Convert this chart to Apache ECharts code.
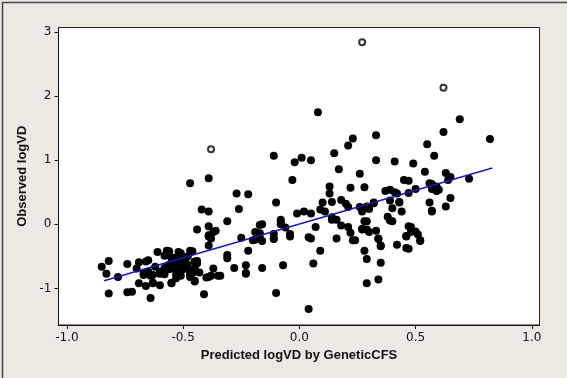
<!DOCTYPE html>
<html>
<head>
<meta charset="utf-8">
<script src="https://cdn.jsdelivr.net/npm/echarts@6/dist/echarts.min.js"></script>
<style>
  html, body { margin: 0; padding: 0; background: #ece8e2; }
  #chart { width: 567px; height: 378px; }
</style>
</head>
<body>
<div id="chart"></div>
<script>
// predicted vs observed logVD
var points = [
  [0.08,1.75],[0.69,1.64],[0.82,1.33],[0.62,1.44],[0.33,1.39],[0.23,1.34],[0.21,1.23],[0.55,1.25],
  [0.15,1.11],[0.58,1.07],[-0.11,1.07],[0.01,1.04],[0.05,1.00],[-0.02,0.97],[0.33,1.00],[0.41,0.98],
  [0.49,0.95],[0.17,0.86],[0.26,0.79],[0.54,0.82],[0.63,0.80],[0.65,0.74],[0.64,0.69],[0.73,0.71],
  [-0.39,0.72],[-0.47,0.64],[-0.03,0.69],[0.45,0.69],[0.47,0.68],[0.13,0.59],[0.22,0.57],[0.28,0.58],
  [0.50,0.55],[0.57,0.63],[0.57,0.55],[0.59,0.59],[0.59,0.52],[0.58,0.58],[0.37,0.52],[0.39,0.54],
  [0.41,0.50],[0.47,0.49],[0.13,0.48],[-0.27,0.48],[-0.22,0.47],[0.65,0.41],[0.18,0.38],[0.39,0.37],
  [0.10,0.34],[0.14,0.35],[0.20,0.32],[0.32,0.34],[0.43,0.34],[0.56,0.34],[-0.10,0.34],[0.21,0.27],
  [0.29,0.28],[0.30,0.24],[0.63,0.28],[0.40,0.25],[0.57,0.20],[0.44,0.20],[-0.42,0.23],[-0.39,0.20],
  [-0.26,0.24],[0.09,0.23],[0.11,0.20],[-0.01,0.17],[0.02,0.20],[0.05,0.17],[0.27,0.20],[0.38,0.12],
  [0.39,0.06],[0.14,0.11],[0.16,0.07],[0.29,0.05],[-0.31,0.05],[-0.08,0.07],[-0.16,0.00],[-0.17,-0.01],
  [-0.08,0.00],[-0.06,-0.05],[0.07,-0.04],[0.18,-0.02],[0.21,-0.04],[0.47,-0.03],[-0.39,-0.03],[-0.44,-0.08],
  [-0.36,-0.10],[0.27,-0.08],[0.29,-0.08],[0.30,-0.12],[0.33,-0.10],[0.48,-0.12],[0.51,-0.16],[-0.19,-0.12],
  [-0.11,-0.15],[0.22,-0.13],[-0.04,-0.17],[-0.39,-0.19],[0.46,-0.19],[-0.25,-0.21],[-0.17,-0.21],[0.04,-0.20],
  [0.05,-0.22],[0.16,-0.22],[0.34,-0.22],[-0.38,-0.22],[-0.20,-0.25],[-0.11,-0.22],[-0.04,-0.19],[0.23,-0.25],
  [0.52,-0.25],[-0.39,-0.33],[0.35,-0.34],[0.42,-0.32],[0.47,-0.38],[-0.22,-0.41],[0.09,-0.41],[0.28,-0.41],
  [-0.61,-0.43],[-0.57,-0.41],[-0.52,-0.43],[-0.47,-0.41],[-0.58,-0.49],[-0.31,-0.48],[-0.31,-0.53],[0.29,-0.54],
  [-0.48,-0.50],[-0.54,-0.52],[-0.52,-0.56],[-0.50,-0.57],[-0.45,-0.58],[-0.44,-0.61],[-0.55,-0.62],[-0.52,-0.63],
  [0.35,-0.60],[-0.74,-0.62],[-0.69,-0.59],[-0.66,-0.58],[-0.65,-0.56],[-0.82,-0.57],[0.06,-0.61],[-0.23,-0.64],
  [-0.28,-0.68],[-0.16,-0.68],[-0.07,-0.64],[-0.37,-0.69],[-0.70,-0.69],[-0.85,-0.66],[-0.62,-0.66],[-0.58,-0.68],
  [-0.56,-0.70],[-0.53,-0.67],[-0.50,-0.70],[-0.47,-0.71],[-0.46,-0.76],[-0.43,-0.75],[-0.34,-0.80],[-0.23,-0.77],
  [-0.83,-0.77],[-0.78,-0.82],[-0.67,-0.79],[-0.64,-0.80],[-0.60,-0.77],[-0.58,-0.78],[-0.53,-0.78],[-0.51,-0.80],
  [-0.39,-0.82],[-0.47,-0.82],[-0.45,-0.89],[-0.53,-0.84],[-0.55,-0.91],[-0.63,-0.91],[-0.69,-0.92],[-0.66,-0.96],
  [-0.60,-0.95],[0.34,-0.86],[0.29,-0.92],[-0.74,-1.06],[-0.72,-1.05],[-0.82,-1.08],[-0.64,-1.15],[-0.41,-1.09],
  [-0.10,-1.07],[0.04,-1.32],
  [-0.57,-0.48],[-0.56,-0.42],[-0.55,-0.53],[-0.51,-0.45],[-0.49,-0.53],[-0.46,-0.42],[-0.44,-0.57],[-0.56,-0.63],
  [-0.54,-0.69],[-0.52,-0.74],[-0.50,-0.66],[-0.48,-0.63],[-0.47,-0.74],[-0.45,-0.69],[-0.55,-0.92],[-0.47,-0.79],
  [-0.45,-0.88],[-0.67,-0.76],[-0.65,-0.74],[-0.63,-0.79],[-0.60,-0.74],[-0.63,-0.92],[-0.40,-0.83],[-0.38,-0.80],
  [-0.35,-0.80],[-0.39,-0.17],[-0.37,-0.12],[-0.23,-0.76],[-0.17,-0.14],[-0.19,-0.24],[-0.16,-0.26],[-0.11,-0.23],
  [-0.08,0.04],[-0.04,-0.15],[0.14,0.07],[0.26,0.27],[0.30,0.26],[0.32,0.33],[0.40,0.05],[0.27,-0.07],
  [0.24,-0.25],[0.34,-0.23],[0.35,-0.33],[0.48,-0.04],[0.50,-0.11],[0.46,-0.18],[0.52,-0.26],[0.46,-0.37],
  [0.28,0.05],[0.60,0.54],[0.56,0.64],[0.42,0.48],[0.43,0.35],[0.57,0.21]
];
var outliers = [[-0.38,1.17],[0.27,2.84],[0.62,2.13]];
var fitLine = [[-0.84,-0.88],[0.83,0.88]];
var xTicks = [-1.0, -0.5, 0.0, 0.5, 1.0];
var yTicks = [-1, 0, 1, 2, 3];

var chart = echarts.init(document.getElementById('chart'));
var option = {
  backgroundColor: '#ece8e2',
  animation: false,
  graphic: [{
    type: 'rect', left: 0, top: 0, silent: true,
    shape: { x: 0.5, y: 0.5, width: 566, height: 377 },
    style: { fill: 'none', stroke: '#444', lineWidth: 1.5 }
  }],
  grid: {
    left: 58.5, right: 27.5, top: 27.5, bottom: 53,
    show: true, backgroundColor: '#fff', borderColor: '#222', borderWidth: 1
  },
  xAxis: {
    type: 'value', min: -1.036, max: 1.033,
    name: 'Predicted logVD by GeneticCFS', nameLocation: 'middle', nameGap: 23,
    nameTextStyle: { fontFamily: 'Liberation Sans', fontWeight: 'bold', fontSize: 13, color: '#111' },
    axisLine: { show: true, onZero: false, lineStyle: { color: '#111' } },
    axisTick: { show: true, length: 4, customValues: xTicks, lineStyle: { color: '#111' } },
    axisLabel: {
      customValues: xTicks, margin: 7, fontFamily: 'DejaVu Sans', fontSize: 12, color: '#111',
      formatter: function (v) { return v.toFixed(1); }
    },
    splitLine: { show: false }
  },
  yAxis: {
    type: 'value', min: -1.57, max: 3.07,
    name: 'Observed logVD', nameLocation: 'middle', nameGap: 25,
    nameTextStyle: { fontFamily: 'Liberation Sans', fontWeight: 'bold', fontSize: 13, color: '#111' },
    axisLine: { show: true, onZero: false, lineStyle: { color: '#111' } },
    axisTick: { show: true, length: 4, customValues: yTicks, lineStyle: { color: '#111' } },
    axisLabel: {
      customValues: yTicks, margin: 7, fontFamily: 'DejaVu Sans', fontSize: 12, color: '#111',
      formatter: function (v) { return String(v); }
    },
    splitLine: { show: false }
  },
  series: [
    {
      type: 'scatter', data: points, symbol: 'circle', symbolSize: 8,
      itemStyle: { color: '#000', opacity: 1 }
    },
    {
      type: 'scatter', data: outliers, symbol: 'emptyCircle', symbolSize: 6,
      itemStyle: { color: '#000', borderColor: '#000', borderWidth: 1.2 }
    },
    {
      type: 'line', data: fitLine, symbol: 'none',
      lineStyle: { color: '#1a1aa8', width: 1.5 }
    }
  ]
};
chart.setOption(option);
</script>
</body>
</html>
